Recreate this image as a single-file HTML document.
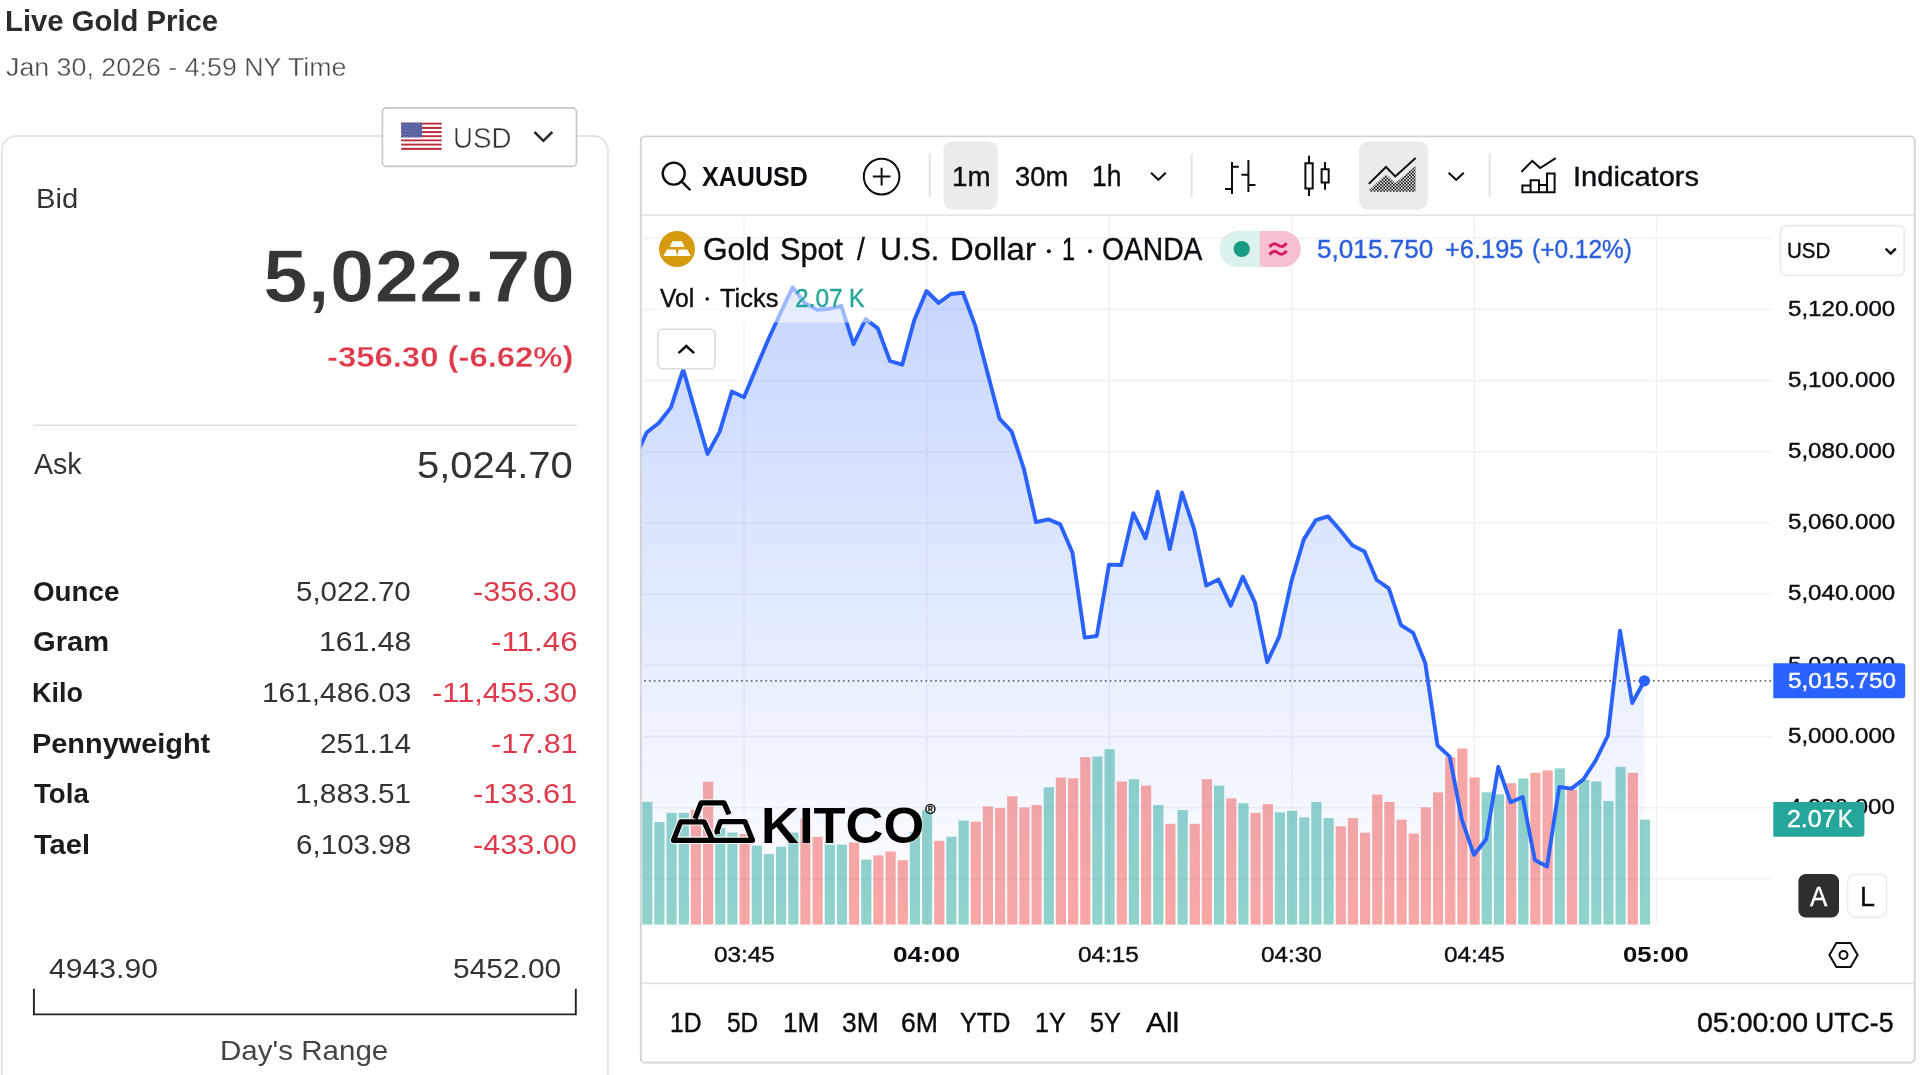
<!DOCTYPE html>
<html><head><meta charset="utf-8"><title>Live Gold Price</title>
<style>
html,body{margin:0;padding:0;background:#fff}
body{width:1920px;height:1075px;position:relative;overflow:hidden;font-family:"Liberation Sans",sans-serif}
.t{position:absolute;white-space:pre;line-height:1;transform-origin:0 0;margin:0;padding:0}

.c{-webkit-text-stroke:0.4px currentColor}
.kt{text-shadow:0 0 1.5px #fff,0 0 1.5px #fff}
.th{-webkit-text-stroke:0.35px #fff}
.th2{-webkit-text-stroke:0.5px #fff}
.sb1{-webkit-text-stroke:0.9px #fff}
.sb2{-webkit-text-stroke:0.35px #fff}
.tl{position:absolute;left:0;top:0;width:1920px;height:1075px;will-change:transform}
.layer{position:absolute;left:0;top:0;overflow:visible}
.box{position:absolute;box-sizing:border-box}
</style></head>
<body>
<svg class="layer" width="1920" height="1075" viewBox="0 0 1920 1075">
<rect x="1.8" y="136" width="606.1" height="1000" rx="14.5" fill="none" stroke="#e3e3e3" stroke-width="1.8"/>
<rect x="382.4" y="107.9" width="194.1" height="58.5" rx="4" fill="#fff" stroke="#c6c6c6" stroke-width="1.6"/>
<path d="M33,425.2H577" stroke="#dedede" stroke-width="1.5"/>
<path d="M33.9,988.8V1014.4H575.8V988.8" fill="none" stroke="#222" stroke-width="1.9"/>
<rect x="640.8" y="136.4" width="1273.9" height="926.2" rx="4" fill="none" stroke="#d3d3d3" stroke-width="1.9"/>
<path d="M641.7,215.2H1913.8" stroke="#e5e5e5" stroke-width="1.8"/>
<path d="M641.7,983.4H1913.8" stroke="#e3e3e3" stroke-width="1.6"/>
</svg>

<svg class="layer" width="1920" height="1075" viewBox="0 0 1920 1075">
<rect x="943.4" y="141.2" width="54.3" height="68.5" rx="9" fill="#ebebeb"/>
<rect x="1359" y="141.2" width="68.8" height="68.5" rx="9" fill="#ebebeb"/>
</svg>
<svg class="layer" width="1920" height="1075" viewBox="0 0 1920 1075">
<defs>
<linearGradient id="ag" x1="0" y1="216" x2="0" y2="925" gradientUnits="userSpaceOnUse">
<stop offset="0" stop-color="#2962ff" stop-opacity="0.29"/><stop offset="1" stop-color="#2962ff" stop-opacity="0.0"/></linearGradient>
<clipPath id="cc"><rect x="641.5" y="217" width="1132" height="709"/></clipPath>
</defs>
<g stroke="#f2f2f4" stroke-width="1.6" fill="none"><path d="M641.5,238.2H1771.5"/><path d="M641.5,309.4H1771.5"/><path d="M641.5,380.6H1771.5"/><path d="M641.5,451.8H1771.5"/><path d="M641.5,523.0H1771.5"/><path d="M641.5,594.2H1771.5"/><path d="M641.5,665.4H1771.5"/><path d="M641.5,736.6H1771.5"/><path d="M641.5,807.8H1771.5"/><path d="M641.5,879.0H1771.5"/><path d="M744.0,217V925"/><path d="M926.6,217V925"/><path d="M1109.2,217V925"/><path d="M1291.7,217V925"/><path d="M1474.2,217V925"/><path d="M1656.6,217V925"/></g>
<g clip-path="url(#cc)">
<path d="M634.5,458.9 L646.7,432.5 L658.8,423.0 L671.0,407.4 L683.2,369.3 L695.3,411.6 L707.5,454.0 L719.7,431.6 L731.8,391.6 L744.0,397.2 L756.2,368.0 L768.3,339.5 L780.5,313.0 L792.7,287.4 L804.8,303.0 L817.0,309.8 L829.2,308.8 L841.3,306.0 L853.5,344.2 L865.7,319.0 L877.8,328.4 L890.0,361.0 L902.2,364.7 L914.3,320.0 L926.5,291.0 L938.7,303.0 L950.8,294.0 L963.0,292.7 L975.2,325.6 L987.3,372.0 L999.5,418.6 L1011.7,431.6 L1023.8,468.5 L1036.0,522.2 L1048.2,519.3 L1060.3,524.4 L1072.5,552.8 L1084.7,637.6 L1096.8,636.0 L1109.0,564.6 L1121.2,565.0 L1133.3,513.2 L1145.5,538.3 L1157.7,491.8 L1169.8,549.0 L1182.0,492.5 L1194.2,529.3 L1206.3,585.6 L1218.5,579.6 L1230.7,605.7 L1242.8,576.7 L1255.0,602.6 L1267.2,662.2 L1279.3,636.4 L1291.5,581.0 L1303.7,539.6 L1315.8,520.1 L1328.0,516.4 L1340.2,530.2 L1352.3,545.2 L1364.5,551.4 L1376.7,580.0 L1388.8,588.3 L1401.0,625.1 L1413.2,632.9 L1425.3,663.2 L1437.5,745.4 L1449.7,756.6 L1461.8,819.6 L1474.0,854.8 L1486.2,839.2 L1498.3,766.8 L1510.5,802.2 L1522.7,797.0 L1534.8,860.0 L1547.0,866.5 L1559.2,787.0 L1571.4,788.6 L1583.5,779.3 L1595.7,760.5 L1607.9,735.5 L1620.0,630.8 L1632.2,703.0 L1644.4,680.8 L1644.4,925 L634.5,925 Z" fill="url(#ag)"/>
<g fill-opacity="0.51"><rect x="630.0" y="820.0" width="10.2" height="104.6" fill="#26a69a"/><rect x="642.2" y="801.9" width="10.2" height="122.7" fill="#26a69a"/><rect x="654.3" y="822.1" width="10.2" height="102.5" fill="#26a69a"/><rect x="666.5" y="812.9" width="10.2" height="111.7" fill="#26a69a"/><rect x="678.7" y="812.9" width="10.2" height="111.7" fill="#26a69a"/><rect x="690.8" y="810.0" width="10.2" height="114.6" fill="#ef5350"/><rect x="703.0" y="781.7" width="10.2" height="142.9" fill="#ef5350"/><rect x="715.2" y="828.0" width="10.2" height="96.6" fill="#26a69a"/><rect x="727.3" y="832.5" width="10.2" height="92.1" fill="#26a69a"/><rect x="739.5" y="834.0" width="10.2" height="90.6" fill="#ef5350"/><rect x="751.7" y="845.6" width="10.2" height="79.0" fill="#26a69a"/><rect x="763.8" y="854.0" width="10.2" height="70.6" fill="#26a69a"/><rect x="776.0" y="846.7" width="10.2" height="77.9" fill="#26a69a"/><rect x="788.2" y="832.5" width="10.2" height="92.1" fill="#26a69a"/><rect x="800.3" y="818.5" width="10.2" height="106.1" fill="#ef5350"/><rect x="812.5" y="836.9" width="10.2" height="87.7" fill="#ef5350"/><rect x="824.7" y="844.6" width="10.2" height="80.0" fill="#26a69a"/><rect x="836.8" y="844.6" width="10.2" height="80.0" fill="#26a69a"/><rect x="849.0" y="842.5" width="10.2" height="82.1" fill="#ef5350"/><rect x="861.2" y="859.6" width="10.2" height="65.0" fill="#26a69a"/><rect x="873.3" y="855.4" width="10.2" height="69.2" fill="#ef5350"/><rect x="885.5" y="851.5" width="10.2" height="73.1" fill="#ef5350"/><rect x="897.7" y="860.2" width="10.2" height="64.4" fill="#ef5350"/><rect x="909.8" y="832.0" width="10.2" height="92.6" fill="#26a69a"/><rect x="922.0" y="810.2" width="10.2" height="114.4" fill="#26a69a"/><rect x="934.2" y="840.8" width="10.2" height="83.8" fill="#ef5350"/><rect x="946.3" y="836.7" width="10.2" height="87.9" fill="#26a69a"/><rect x="958.5" y="820.6" width="10.2" height="104.0" fill="#26a69a"/><rect x="970.7" y="821.7" width="10.2" height="102.9" fill="#ef5350"/><rect x="982.8" y="806.3" width="10.2" height="118.3" fill="#ef5350"/><rect x="995.0" y="808.1" width="10.2" height="116.5" fill="#ef5350"/><rect x="1007.2" y="796.3" width="10.2" height="128.3" fill="#ef5350"/><rect x="1019.3" y="807.5" width="10.2" height="117.1" fill="#ef5350"/><rect x="1031.5" y="805.0" width="10.2" height="119.6" fill="#ef5350"/><rect x="1043.7" y="787.3" width="10.2" height="137.3" fill="#26a69a"/><rect x="1055.8" y="777.5" width="10.2" height="147.1" fill="#ef5350"/><rect x="1068.0" y="778.3" width="10.2" height="146.3" fill="#ef5350"/><rect x="1080.2" y="757.1" width="10.2" height="167.5" fill="#ef5350"/><rect x="1092.3" y="756.5" width="10.2" height="168.1" fill="#26a69a"/><rect x="1104.5" y="749.2" width="10.2" height="175.4" fill="#26a69a"/><rect x="1116.7" y="781.5" width="10.2" height="143.1" fill="#ef5350"/><rect x="1128.8" y="779.2" width="10.2" height="145.4" fill="#26a69a"/><rect x="1141.0" y="785.6" width="10.2" height="139.0" fill="#ef5350"/><rect x="1153.2" y="805.0" width="10.2" height="119.6" fill="#26a69a"/><rect x="1165.3" y="823.8" width="10.2" height="100.8" fill="#ef5350"/><rect x="1177.5" y="810.0" width="10.2" height="114.6" fill="#26a69a"/><rect x="1189.7" y="823.8" width="10.2" height="100.8" fill="#ef5350"/><rect x="1201.8" y="779.2" width="10.2" height="145.4" fill="#ef5350"/><rect x="1214.0" y="785.6" width="10.2" height="139.0" fill="#26a69a"/><rect x="1226.2" y="798.3" width="10.2" height="126.3" fill="#ef5350"/><rect x="1238.3" y="803.3" width="10.2" height="121.3" fill="#26a69a"/><rect x="1250.5" y="812.9" width="10.2" height="111.7" fill="#ef5350"/><rect x="1262.7" y="804.2" width="10.2" height="120.4" fill="#ef5350"/><rect x="1274.8" y="812.3" width="10.2" height="112.3" fill="#26a69a"/><rect x="1287.0" y="810.8" width="10.2" height="113.8" fill="#26a69a"/><rect x="1299.2" y="817.3" width="10.2" height="107.3" fill="#26a69a"/><rect x="1311.3" y="801.9" width="10.2" height="122.7" fill="#26a69a"/><rect x="1323.5" y="818.1" width="10.2" height="106.5" fill="#26a69a"/><rect x="1335.7" y="826.3" width="10.2" height="98.3" fill="#ef5350"/><rect x="1347.8" y="818.1" width="10.2" height="106.5" fill="#ef5350"/><rect x="1360.0" y="832.7" width="10.2" height="91.9" fill="#ef5350"/><rect x="1372.2" y="794.6" width="10.2" height="130.0" fill="#ef5350"/><rect x="1384.3" y="801.9" width="10.2" height="122.7" fill="#ef5350"/><rect x="1396.5" y="819.6" width="10.2" height="105.0" fill="#ef5350"/><rect x="1408.7" y="833.5" width="10.2" height="91.1" fill="#ef5350"/><rect x="1420.8" y="807.4" width="10.2" height="117.2" fill="#ef5350"/><rect x="1433.0" y="792.3" width="10.2" height="132.3" fill="#ef5350"/><rect x="1445.2" y="757.1" width="10.2" height="167.5" fill="#ef5350"/><rect x="1457.3" y="748.5" width="10.2" height="176.1" fill="#ef5350"/><rect x="1469.5" y="777.4" width="10.2" height="147.2" fill="#ef5350"/><rect x="1481.7" y="792.3" width="10.2" height="132.3" fill="#26a69a"/><rect x="1493.8" y="794.4" width="10.2" height="130.2" fill="#26a69a"/><rect x="1506.0" y="783.2" width="10.2" height="141.4" fill="#ef5350"/><rect x="1518.2" y="778.5" width="10.2" height="146.1" fill="#26a69a"/><rect x="1530.3" y="772.8" width="10.2" height="151.8" fill="#ef5350"/><rect x="1542.5" y="770.4" width="10.2" height="154.2" fill="#ef5350"/><rect x="1554.7" y="768.3" width="10.2" height="156.3" fill="#26a69a"/><rect x="1566.9" y="789.7" width="10.2" height="134.9" fill="#ef5350"/><rect x="1579.0" y="780.0" width="10.2" height="144.6" fill="#26a69a"/><rect x="1591.2" y="781.4" width="10.2" height="143.2" fill="#26a69a"/><rect x="1603.4" y="800.9" width="10.2" height="123.7" fill="#26a69a"/><rect x="1615.5" y="766.8" width="10.2" height="157.8" fill="#26a69a"/><rect x="1627.7" y="772.8" width="10.2" height="151.8" fill="#ef5350"/><rect x="1639.9" y="819.6" width="10.2" height="105.0" fill="#26a69a"/></g>
<path d="M634.5,458.9 L646.7,432.5 L658.8,423.0 L671.0,407.4 L683.2,369.3 L695.3,411.6 L707.5,454.0 L719.7,431.6 L731.8,391.6 L744.0,397.2 L756.2,368.0 L768.3,339.5 L780.5,313.0 L792.7,287.4 L804.8,303.0 L817.0,309.8 L829.2,308.8 L841.3,306.0 L853.5,344.2 L865.7,319.0 L877.8,328.4 L890.0,361.0 L902.2,364.7 L914.3,320.0 L926.5,291.0 L938.7,303.0 L950.8,294.0 L963.0,292.7 L975.2,325.6 L987.3,372.0 L999.5,418.6 L1011.7,431.6 L1023.8,468.5 L1036.0,522.2 L1048.2,519.3 L1060.3,524.4 L1072.5,552.8 L1084.7,637.6 L1096.8,636.0 L1109.0,564.6 L1121.2,565.0 L1133.3,513.2 L1145.5,538.3 L1157.7,491.8 L1169.8,549.0 L1182.0,492.5 L1194.2,529.3 L1206.3,585.6 L1218.5,579.6 L1230.7,605.7 L1242.8,576.7 L1255.0,602.6 L1267.2,662.2 L1279.3,636.4 L1291.5,581.0 L1303.7,539.6 L1315.8,520.1 L1328.0,516.4 L1340.2,530.2 L1352.3,545.2 L1364.5,551.4 L1376.7,580.0 L1388.8,588.3 L1401.0,625.1 L1413.2,632.9 L1425.3,663.2 L1437.5,745.4 L1449.7,756.6 L1461.8,819.6 L1474.0,854.8 L1486.2,839.2 L1498.3,766.8 L1510.5,802.2 L1522.7,797.0 L1534.8,860.0 L1547.0,866.5 L1559.2,787.0 L1571.4,788.6 L1583.5,779.3 L1595.7,760.5 L1607.9,735.5 L1620.0,630.8 L1632.2,703.0 L1644.4,680.8" fill="none" stroke="#2962ff" stroke-width="3.9" stroke-linejoin="round" stroke-linecap="round"/>
</g>
<path d="M1771,680.9H641.5" stroke="#6a6f82" stroke-width="1.7" stroke-dasharray="1.7 3.15" fill="none"/>
<circle cx="1644.4" cy="680.8" r="5.6" fill="#2962ff"/>
</svg>
<div class="tl"><span class="t" style="left:5.40px;top:7.00px;font-size:28.7px;transform:scaleX(1.0204);color:#2c2c2c;font-weight:700">Live Gold Price</span><span class="t th" style="left:5.85px;top:55.00px;font-size:25.2px;transform:scaleX(1.0632);color:#4a4a4a">Jan 30, 2026 - 4:59 NY Time</span><span class="t" style="left:35.76px;top:185.00px;font-size:27.2px;transform:scaleX(1.0741);color:#333">Bid</span><span class="t sb1" style="left:262.99px;top:240.00px;font-size:74.1px;transform:scaleX(1.0820);color:#363636;font-weight:700">5,022.70</span><span class="t sb2" style="left:326.55px;top:342.00px;font-size:30.1px;transform:scaleX(1.0915);color:#df3a4b;font-weight:700">-356.30 (-6.62%)</span><span class="t" style="left:33.90px;top:450.00px;font-size:29.2px;transform:scaleX(0.9791);color:#333">Ask</span><span class="t" style="left:417.20px;top:447.00px;font-size:37.0px;transform:scaleX(1.0814);color:#333">5,024.70</span><span class="t" style="left:32.69px;top:577.00px;font-size:28.2px;transform:scaleX(0.9843);color:#1c1c1c;font-weight:700">Ounce</span><span class="t" style="left:296.02px;top:578.00px;font-size:27.8px;transform:scaleX(1.0604);color:#333">5,022.70</span><span class="t" style="left:473.18px;top:578.00px;font-size:27.8px;transform:scaleX(1.1012);color:#df3a4b">-356.30</span><span class="t" style="left:32.63px;top:627.00px;font-size:28.2px;transform:scaleX(1.0329);color:#1c1c1c;font-weight:700">Gram</span><span class="t" style="left:318.74px;top:628.00px;font-size:27.8px;transform:scaleX(1.0844);color:#333">161.48</span><span class="t" style="left:490.54px;top:628.00px;font-size:27.8px;transform:scaleX(1.1288);color:#df3a4b">-11.46</span><span class="t" style="left:32.04px;top:678.00px;font-size:28.2px;transform:scaleX(0.9580);color:#1c1c1c;font-weight:700">Kilo</span><span class="t" style="left:261.56px;top:679.00px;font-size:27.8px;transform:scaleX(1.0735);color:#333">161,486.03</span><span class="t" style="left:431.77px;top:679.00px;font-size:27.8px;transform:scaleX(1.1099);color:#df3a4b">-11,455.30</span><span class="t" style="left:31.92px;top:729.00px;font-size:28.2px;transform:scaleX(1.0252);color:#1c1c1c;font-weight:700">Pennyweight</span><span class="t" style="left:319.51px;top:730.00px;font-size:27.8px;transform:scaleX(1.0698);color:#333">251.14</span><span class="t" style="left:490.58px;top:730.00px;font-size:27.8px;transform:scaleX(1.1003);color:#df3a4b">-17.81</span><span class="t" style="left:33.52px;top:779.00px;font-size:28.2px;transform:scaleX(0.9813);color:#1c1c1c;font-weight:700">Tola</span><span class="t" style="left:294.96px;top:780.00px;font-size:27.8px;transform:scaleX(1.0730);color:#333">1,883.51</span><span class="t" style="left:473.17px;top:780.00px;font-size:27.8px;transform:scaleX(1.1046);color:#df3a4b">-133.61</span><span class="t" style="left:33.51px;top:830.00px;font-size:28.2px;transform:scaleX(1.0318);color:#1c1c1c;font-weight:700">Tael</span><span class="t" style="left:295.72px;top:831.00px;font-size:27.8px;transform:scaleX(1.0645);color:#333">6,103.98</span><span class="t" style="left:473.18px;top:831.00px;font-size:27.8px;transform:scaleX(1.1012);color:#df3a4b">-433.00</span><span class="t" style="left:49.40px;top:955.00px;font-size:27.8px;transform:scaleX(1.0836);color:#333">4943.90</span><span class="t" style="left:452.50px;top:955.00px;font-size:27.8px;transform:scaleX(1.0765);color:#333">5452.00</span><span class="t" style="left:220.44px;top:1037.00px;font-size:28.1px;transform:scaleX(1.0518);color:#444">Day's Range</span><span class="t" style="left:702.27px;top:163.00px;font-size:28.0px;transform:scaleX(0.8945);color:#0b0d12;font-weight:700">XAUUSD</span><span class="t c" style="left:951.52px;top:163.00px;font-size:28.1px;transform:scaleX(0.9870);color:#0b0d12">1m</span><span class="t c" style="left:1014.64px;top:163.00px;font-size:28.1px;transform:scaleX(0.9729);color:#0b0d12">30m</span><span class="t c" style="left:1092.22px;top:161.00px;font-size:29.4px;transform:scaleX(0.8990);color:#0b0d12">1h</span><span class="t c" style="left:1572.98px;top:163.00px;font-size:28.0px;transform:scaleX(1.0382);color:#0b0d12">Indicators</span><span class="t c" style="left:1787.83px;top:297.00px;font-size:22.7px;transform:scaleX(1.0629);color:#0b0d12">5,120.000</span><span class="t c" style="left:1787.83px;top:368.00px;font-size:22.7px;transform:scaleX(1.0629);color:#0b0d12">5,100.000</span><span class="t c" style="left:1787.83px;top:439.00px;font-size:22.7px;transform:scaleX(1.0629);color:#0b0d12">5,080.000</span><span class="t c" style="left:1787.83px;top:510.00px;font-size:22.7px;transform:scaleX(1.0629);color:#0b0d12">5,060.000</span><span class="t c" style="left:1787.83px;top:581.00px;font-size:22.7px;transform:scaleX(1.0629);color:#0b0d12">5,040.000</span><span class="t c" style="left:1787.83px;top:653.00px;font-size:22.7px;transform:scaleX(1.0629);color:#0b0d12">5,020.000</span><span class="t c" style="left:1787.83px;top:724.00px;font-size:22.7px;transform:scaleX(1.0629);color:#0b0d12">5,000.000</span><span class="t c" style="left:1788.32px;top:795.00px;font-size:22.7px;transform:scaleX(1.0581);color:#0b0d12">4,980.000</span><span class="t c" style="left:714.15px;top:943.00px;font-size:22.9px;transform:scaleX(1.0619);color:#0b0d12">03:45</span><span class="t" style="left:893.08px;top:943.00px;font-size:22.9px;transform:scaleX(1.1468);color:#0b0d12;font-weight:700">04:00</span><span class="t c" style="left:1078.45px;top:943.00px;font-size:22.9px;transform:scaleX(1.0619);color:#0b0d12">04:15</span><span class="t c" style="left:1261.35px;top:943.00px;font-size:22.9px;transform:scaleX(1.0597);color:#0b0d12">04:30</span><span class="t c" style="left:1443.85px;top:943.00px;font-size:22.9px;transform:scaleX(1.0619);color:#0b0d12">04:45</span><span class="t" style="left:1623.10px;top:943.00px;font-size:22.9px;transform:scaleX(1.1240);color:#0b0d12;font-weight:700">05:00</span><span class="t c" style="left:670.14px;top:1009.00px;font-size:27.4px;transform:scaleX(0.9028);color:#0b0d12">1D</span><span class="t c" style="left:726.82px;top:1009.00px;font-size:27.4px;transform:scaleX(0.8916);color:#0b0d12">5D</span><span class="t c" style="left:783.04px;top:1009.00px;font-size:27.4px;transform:scaleX(0.9536);color:#0b0d12">1M</span><span class="t c" style="left:842.18px;top:1009.00px;font-size:27.4px;transform:scaleX(0.9609);color:#0b0d12">3M</span><span class="t c" style="left:900.87px;top:1009.00px;font-size:27.4px;transform:scaleX(0.9723);color:#0b0d12">6M</span><span class="t c" style="left:960.20px;top:1009.00px;font-size:27.8px;transform:scaleX(0.9045);color:#0b0d12">YTD</span><span class="t c" style="left:1034.82px;top:1009.00px;font-size:27.4px;transform:scaleX(0.9171);color:#0b0d12">1Y</span><span class="t c" style="left:1089.69px;top:1009.00px;font-size:27.4px;transform:scaleX(0.9209);color:#0b0d12">5Y</span><span class="t c" style="left:1146.00px;top:1009.00px;font-size:27.8px;transform:scaleX(1.0731);color:#0b0d12">All</span><span class="t c" style="left:1697.00px;top:1009.00px;font-size:27.2px;transform:scaleX(1.0487);color:#0b0d12">05:00:00</span><span class="t c" style="left:1815.00px;top:1009.00px;font-size:27.6px;transform:scaleX(0.9660);color:#0b0d12">UTC-5</span></div>
<svg class="layer" width="1920" height="1075" viewBox="0 0 1920 1075">
<defs>
<pattern id="stars" x="401.2" y="122.7" width="3.46" height="2.9" patternUnits="userSpaceOnUse"><circle cx="0.9" cy="0.8" r="0.6" fill="#fff" fill-opacity="0.75"/><circle cx="2.6" cy="2.2" r="0.6" fill="#fff" fill-opacity="0.75"/></pattern>
</defs>
<g><rect x="401.2" y="122.70" width="40.5" height="2.09" fill="#bd2d3c"/><rect x="401.2" y="124.79" width="40.5" height="2.09" fill="#fff"/><rect x="401.2" y="126.88" width="40.5" height="2.09" fill="#bd2d3c"/><rect x="401.2" y="128.98" width="40.5" height="2.09" fill="#fff"/><rect x="401.2" y="131.07" width="40.5" height="2.09" fill="#bd2d3c"/><rect x="401.2" y="133.16" width="40.5" height="2.09" fill="#fff"/><rect x="401.2" y="135.25" width="40.5" height="2.09" fill="#bd2d3c"/><rect x="401.2" y="137.35" width="40.5" height="2.09" fill="#fff"/><rect x="401.2" y="139.44" width="40.5" height="2.09" fill="#bd2d3c"/><rect x="401.2" y="141.53" width="40.5" height="2.09" fill="#fff"/><rect x="401.2" y="143.62" width="40.5" height="2.09" fill="#bd2d3c"/><rect x="401.2" y="145.72" width="40.5" height="2.09" fill="#fff"/><rect x="401.2" y="147.81" width="40.5" height="2.09" fill="#bd2d3c"/><rect x="401.2" y="122.7" width="20.8" height="14.65" fill="#3f4b93"/><rect x="401.2" y="122.7" width="20.8" height="14.65" fill="url(#stars)"/></g>
<path d="M534.5,132 L543.4,140.8 L552.3,132" fill="none" stroke="#2a2a2a" stroke-width="2.5"/>
<!-- toolbar -->
<g fill="none" stroke="#0b0d12" stroke-width="2.4">
<circle cx="673.7" cy="173.6" r="11"/><path d="M681.5,181.4 L689.6,189.4" stroke-linecap="square"/>
</g>
<g fill="none" stroke="#0b0d12" stroke-width="2">
<circle cx="881.6" cy="176.6" r="17.8"/><path d="M872.8,176.6H890.4M881.6,167.8V185.4"/>
<path d="M1151,172.8 L1158.4,179.8 L1165.8,172.8"/>
<path d="M1448.6,172.8 L1456.2,179.8 L1463.8,172.8"/>
</g>
<g stroke="#e3e3e5" stroke-width="2"><path d="M929.8,153.4V197.2M1191.6,153.4V197.2M1489.6,153.4V197.2"/></g>
<!-- bars icon -->
<g fill="none" stroke="#0b0d12" stroke-width="2">
<path d="M1232,162V194M1232,166.7H1238.8M1225,189H1232M1248.4,160V192M1241.4,174.8H1248.4M1248.4,185H1255.5"/>
<path d="M1309,155.8V162.3M1309,189.4V196M1305.4,163.3H1312.7V188.4H1305.4ZM1325,162V168.3M1325,183.6V189.7M1321.6,169.3H1328.7V182.6H1321.6Z"/>
<path d="M1521.4,171.9 L1532.3,160.9 L1540.2,168 L1555.8,158.1"/>
<path d="M1522.4,192.3V185.5H1530.6V180.2H1539V185H1547V173.6H1554.6V192.3ZM1530.6,185.5V192.3M1539,185V192.3M1547,185V192.3"/>
</g>
<!-- hex -->
<g fill="none" stroke="#0b0d12" stroke-width="2"><path d="M1829.4,955 L1836.4,943 H1850.6 L1857.6,955 L1850.6,967 H1836.4 Z"/><circle cx="1843.5" cy="955" r="4"/></g>
</svg>
<div class="tl"><span class="t th2" style="left:453.42px;top:124.00px;font-size:28.7px;transform:scaleX(0.9652);color:#333">USD</span><span class="t kt" style="left:760.79px;top:801.00px;font-size:50.8px;transform:scaleX(1.0327);color:#000;font-weight:700">KITCO</span></div>
<svg class="layer" width="1920" height="1075" viewBox="0 0 1920 1075">
<defs>
<pattern id="dots2" x="1369" y="160" width="3.2" height="3.2" patternUnits="userSpaceOnUse"><rect x="0" y="0" width="1.6" height="1.6" fill="#111"/><rect x="1.6" y="1.6" width="1.6" height="1.6" fill="#111"/></pattern>
</defs>
<!-- area icon -->
<path d="M1369.2,191.7 V190 L1386,174.5 L1395.3,183 L1415.6,166 V191.7 Z" fill="url(#dots2)"/>
<path d="M1368.8,183.9 L1386,167 L1395.3,176.4 L1415.6,158" fill="none" stroke="#0b0d12" stroke-width="2"/>
<!-- legend overlay -->
<rect x="656" y="283" width="215" height="39.5" fill="#fff" fill-opacity="0.55"/>
<!-- gold icon -->
<circle cx="677" cy="249" r="18" fill="#d69a0e"/>
<g fill="#fff"><path d="M672.3,241.2H681.9L684.6,247.1H669.6Z"/><path d="M667,249.6H675.7L677.3,255.9H663.4Z"/><path d="M678.7,249.6H687.2L690.8,255.9H677.3Z"/></g>
<g fill="#0b0d12"><circle cx="1048.9" cy="251.2" r="2"/><circle cx="1090" cy="251.2" r="2"/><circle cx="707.2" cy="299" r="1.8"/></g>
<!-- status pill -->
<path d="M1237.5,231.1H1259.8V267.1H1237.5A18,18 0 0 1 1237.5,231.1Z" fill="#daf1ee"/>
<path d="M1259.8,231.1H1282.8A18,18 0 0 1 1282.8,267.1H1259.8Z" fill="#f6bfd4"/>
<circle cx="1241.7" cy="249" r="8.1" fill="#179c84"/>
<g fill="none" stroke="#d81b60" stroke-width="3" stroke-linecap="butt"><path d="M1269.6,247 q4,-5.4 8.4,-1.8 t8.6,-2"/><path d="M1269.6,254.6 q4,-5.4 8.4,-1.8 t8.6,-2"/></g>
<!-- chart usd box -->
<rect x="1780.5" y="225.6" width="123.7" height="49.9" rx="6" fill="#fff" stroke="#e9e9e9" stroke-width="1.6"/>
<path d="M1885.6,248.7 L1890.7,253.6 L1895.8,248.7" fill="none" stroke="#0b0d12" stroke-width="2.4"/>
<!-- collapse -->
<rect x="658" y="329.3" width="57" height="39.4" rx="4.5" fill="#fff" stroke="#dcdcdc" stroke-width="1.6"/>
<path d="M678.5,353.2 L686.3,346 L694.1,353.2" fill="none" stroke="#0b0d12" stroke-width="2.4"/>
<!-- price labels -->
<path d="M1773.3,663.2H1902.2A3,3 0 0 1 1905.2,666.2V695.3A3,3 0 0 1 1902.2,698.3H1773.3Z" fill="#2962ff"/>
<path d="M1773.3,802.1H1861.4A3,3 0 0 1 1864.4,805.1V833.7A3,3 0 0 1 1861.4,836.7H1773.3Z" fill="#26a69a"/>
<rect x="1798.4" y="874" width="40.6" height="43.4" rx="7.5" fill="#2e2e2e"/>
<rect x="1847.6" y="874" width="39" height="43.4" rx="7.5" fill="#fff" stroke="#ececec" stroke-width="1.6"/>
<!-- kitco logo -->
<g fill="none" stroke-linejoin="round">
<g stroke="#fff" stroke-width="7.4" stroke-opacity="0.9">
<path d="M695,818.8 L701.1,802.9 H724 L729,814.3"/>
<path d="M680.7,821.85 H704.2 L712.55,840.3 H673.5 Z"/>
<path d="M712.55,840.3 H752.45 L744.9,821.6 H720.4 L717,831 L717.6,834"/>
</g>
<g stroke="#000" stroke-width="5.3">
<path d="M695,818.8 L701.1,802.9 H724 L729,814.3"/>
<path d="M680.7,821.85 H704.2 L712.55,840.3 H673.5 Z"/>
<path d="M712.55,840.3 H752.45 L744.9,821.6 H720.4 L717,831 L717.6,834"/>
</g>
</g>
<circle cx="930.4" cy="808.9" r="4.5" fill="#fff" fill-opacity="0.6" stroke="#000" stroke-width="1.4"/>
<path d="M928.9,811.5V806.4H930.8A1.4,1.4 0 0 1 930.8,809.2H928.9M930.6,809.2L932.2,811.5" fill="none" stroke="#000" stroke-width="1.1"/>
</svg>
<div class="tl"><span class="t c" style="left:703.22px;top:234.00px;font-size:31.7px;transform:scaleX(0.9978);color:#0b0d12">Gold</span><span class="t c" style="left:780.02px;top:234.00px;font-size:31.7px;transform:scaleX(0.9687);color:#0b0d12">Spot</span><span class="t c" style="left:857.20px;top:234.00px;font-size:31.7px;transform:scaleX(0.8788);color:#0b0d12">/</span><span class="t c" style="left:879.92px;top:234.00px;font-size:31.7px;transform:scaleX(0.9595);color:#0b0d12">U.S.</span><span class="t c" style="left:950.17px;top:234.00px;font-size:31.7px;transform:scaleX(1.0370);color:#0b0d12">Dollar</span><span class="t c" style="left:1061.98px;top:234.00px;font-size:31.3px;transform:scaleX(0.7528);color:#0b0d12">1</span><span class="t c" style="left:1102.33px;top:234.00px;font-size:31.7px;transform:scaleX(0.8905);color:#0b0d12">OANDA</span><span class="t c" style="left:1316.95px;top:237.00px;font-size:25.5px;transform:scaleX(1.0251);color:#2a5fdc">5,015.750</span><span class="t c" style="left:1444.86px;top:237.00px;font-size:25.5px;transform:scaleX(0.9960);color:#2a5fdc">+6.195</span><span class="t c" style="left:1532.33px;top:237.00px;font-size:25.5px;transform:scaleX(0.9598);color:#2a5fdc">(+0.12%)</span><span class="t c" style="left:660.30px;top:285.00px;font-size:26.2px;transform:scaleX(0.9427);color:#0b0d12">Vol</span><span class="t c" style="left:719.99px;top:285.00px;font-size:26.2px;transform:scaleX(0.9708);color:#0b0d12">Ticks</span><span class="t c" style="left:795.02px;top:286.00px;font-size:25.5px;transform:scaleX(0.9612);color:#26a69a">2.07</span><span class="t c" style="left:849.14px;top:285.00px;font-size:26.2px;transform:scaleX(0.8884);color:#26a69a">K</span><span class="t c" style="left:1786.76px;top:240.00px;font-size:22.3px;transform:scaleX(0.9220);color:#0b0d12">USD</span><span class="t c" style="left:1787.53px;top:669.00px;font-size:22.9px;transform:scaleX(1.0616);color:#fff">5,015.750</span><span class="t c" style="left:1787.25px;top:808.00px;font-size:23.5px;transform:scaleX(1.0603);color:#fff">2.07</span><span class="t c" style="left:1837.93px;top:807.00px;font-size:23.9px;transform:scaleX(0.9234);color:#fff">K</span><span class="t c" style="left:1809.60px;top:882.00px;font-size:28.2px;transform:scaleX(0.9209);color:#fff">A</span><span class="t c" style="left:1859.84px;top:882.00px;font-size:28.2px;transform:scaleX(0.9563);color:#0b0d12">L</span></div>
</body></html>
